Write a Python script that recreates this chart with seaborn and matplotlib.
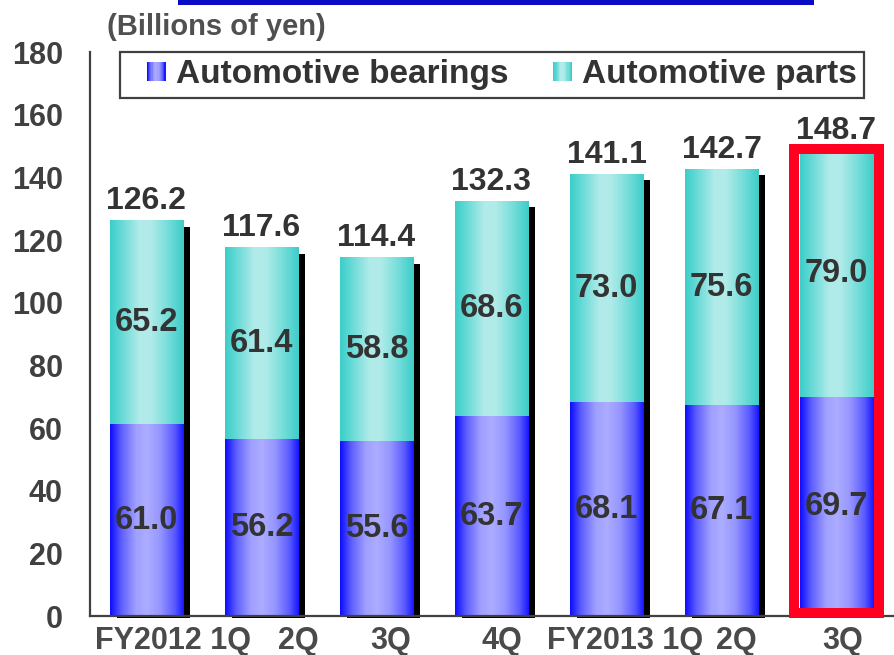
import numpy as np
import pandas as pd
import matplotlib
matplotlib.use("Agg")
import matplotlib.pyplot as plt
import matplotlib.transforms as mtransforms
from matplotlib.patches import Rectangle
from matplotlib.legend_handler import HandlerBase
import seaborn as sns

# ---------------- data ----------------
periods = ["FY2012 1Q", "FY2012 2Q", "FY2012 3Q", "FY2012 4Q",
           "FY2013 1Q", "FY2013 2Q", "FY2013 3Q"]
tick_labels = ["FY2012 1Q", "2Q", "3Q", "4Q", "FY2013 1Q", "2Q", "3Q"]
bearings = [61.0, 56.2, 55.6, 63.7, 68.1, 67.1, 69.7]
parts = [65.2, 61.4, 58.8, 68.6, 73.0, 75.6, 79.0]
totals = [126.2, 117.6, 114.4, 132.3, 141.1, 142.7, 148.7]
unit_label = "(Billions of yen)"
series_names = ["Automotive bearings", "Automotive parts"]

# layout only (label shifts in bar units, as in the original slide)
label_shift = [0.23, 0.32, 0.12, 0.09, 0.16, 0.13, 0.05]

df = pd.DataFrame({"period": periods, "bearings": bearings,
                   "parts": parts, "total": totals})

# ---------------- style ----------------
sns.set_style("white")
plt.rcParams["font.family"] = ["Liberation Sans", "DejaVu Sans"]
plt.rcParams["font.weight"] = "bold"

TXT = "#333333"
AX = "#404040"

blue_stops = [(0.0, (15, 15, 255)), (0.15, (95, 95, 255)), (0.35, (160, 160, 255)),
              (0.5, (172, 172, 255)), (0.68, (150, 150, 255)), (0.88, (90, 90, 255)),
              (1.0, (25, 25, 255))]
cyan_stops = [(0.0, (60, 206, 202)), (0.18, (110, 220, 216)), (0.4, (178, 236, 234)),
              (0.55, (176, 235, 233)), (0.78, (120, 222, 218)), (1.0, (62, 206, 201))]


def gradient(stops, n=64):
    pos = np.array([s[0] for s in stops])
    cols = np.array([s[1] for s in stops], dtype=float) / 255.0
    t = np.linspace(0, 1, n)
    return np.stack([np.interp(t, pos, cols[:, k]) for k in range(3)], axis=1)


blue_grad = gradient(blue_stops)
cyan_grad = gradient(cyan_stops)

fig = plt.figure(figsize=(8.94, 6.55), dpi=100)
ax = fig.add_axes([90 / 894, 39 / 655, 1 - 90 / 894, (616 - 52) / 655])

sns.barplot(data=df, x="period", y="total", order=periods, color="#3ECFCB",
            width=0.635, ax=ax, saturation=1)
sns.barplot(data=df, x="period", y="bearings", order=periods, color="#4040FF",
            width=0.635, ax=ax, saturation=1)

patches = list(ax.patches)
n = len(periods)
tot_patches = patches[:n]
bear_patches = patches[n:2 * n]

ax.set_xlim(-0.49, 6.5)
ax.set_ylim(0, 180)

# shadow: 7 px right, top 6 px lower, bottom 2 px below the axis
shadow_tr = ax.transData + mtransforms.ScaledTranslation(7 / 100, -2 / 100, fig.dpi_scale_trans)
px_per_unit = (616 - 52) / 180.0

for i in range(n):
    tp = tot_patches[i]
    bp = bear_patches[i]
    x0 = tp.get_x()
    w = tp.get_width()
    htot = tp.get_height()
    hb = bp.get_height()
    # shadow
    ax.add_patch(Rectangle((x0, 0), w, htot - 4 / px_per_unit, facecolor="black",
                           edgecolor="none", transform=shadow_tr, zorder=1.2,
                           clip_on=False))
    # gradient fills
    ax.imshow(cyan_grad[np.newaxis, :, :], extent=[x0, x0 + w, hb, htot],
              aspect="auto", interpolation="bilinear", zorder=1.5)
    ax.imshow(blue_grad[np.newaxis, :, :], extent=[x0, x0 + w, 0, hb],
              aspect="auto", interpolation="bilinear", zorder=1.5)
    tp.set_visible(False)
    bp.set_visible(False)
    # labels
    xc = x0 + w / 2
    ax.text(xc, hb / 2, f"{bearings[i]:.1f}", ha="center", va="center",
            fontsize=23.5, color=TXT, fontweight="bold", zorder=5)
    ax.text(xc, hb + (htot - hb) / 2, f"{parts[i]:.1f}", ha="center", va="center",
            fontsize=23.5, color=TXT, fontweight="bold", zorder=5)
    ax.annotate(f"{totals[i]:.1f}", (xc, htot), xytext=(0, 3),
                textcoords="offset points", ha="center", va="bottom",
                fontsize=23, color=TXT, fontweight="bold", zorder=5,
                annotation_clip=False)

# red highlight frame around latest quarter
lp = tot_patches[-1]
ax.add_patch(Rectangle((lp.get_x() - 0.05, 1.0), lp.get_width() + 0.1,
                       lp.get_height() - 0.7, facecolor="none", edgecolor="#FF0020",
                       linewidth=7.2, zorder=4, clip_on=False))

ax.set_xlim(-0.49, 6.5)
ax.set_ylim(0, 180)
ax.set_yticks(np.arange(0, 181, 20))
ax.set_xticks([i + s for i, s in enumerate(label_shift)])
ax.set_xticklabels(tick_labels)
ax.set_xlabel("")
ax.set_ylabel("")

for side in ["top", "right"]:
    ax.spines[side].set_visible(False)
for side in ["left", "bottom"]:
    ax.spines[side].set_color(AX)
    ax.spines[side].set_linewidth(1.6)
    ax.spines[side].set_zorder(3)

ax.tick_params(axis="y", direction="in", length=7.5, width=1.6, color=AX,
               pad=19.5, labelsize=22, labelcolor=AX)
ax.tick_params(axis="x", length=0, pad=7, labelsize=22, labelcolor="#4a4a4a")
for lab in ax.get_xticklabels() + ax.get_yticklabels():
    lab.set_fontweight("bold")

# unit label
fig.text(107 / 894, 1 - 35 / 655, unit_label, ha="left", va="baseline",
         fontsize=21, color="#505050", fontweight="bold")

# blue title strip at top (cut off in the source)
fig.add_artist(Rectangle((178 / 894, 1 - 5 / 655), (814 - 178) / 894, 5 / 655,
                         transform=fig.transFigure, facecolor="#0B0BC4",
                         edgecolor="none"))


class GradHandler(HandlerBase):
    def __init__(self, grad):
        super().__init__()
        self.grad = grad

    def create_artists(self, legend, orig_handle, xdescent, ydescent, width,
                       height, fontsize, trans):
        size = 13.7
        x_start = width - size - xdescent
        y_start = (height - size) / 2 - ydescent
        arts = []
        m = 16
        for k in range(m):
            c = self.grad[int(k * (len(self.grad) - 1) / (m - 1))]
            r = Rectangle((x_start + k * size / m, y_start), size / m + 0.05, size,
                          facecolor=c, edgecolor="none", transform=trans)
            arts.append(r)
        return arts


h1 = Rectangle((0, 0), 1, 1)
h2 = Rectangle((0, 0), 1, 1)
leg = fig.legend([h1, h2], series_names, loc="upper left",
                 bbox_to_anchor=(120 / 894, 1 - 52 / 655), ncol=2,
                 handler_map={h1: GradHandler(blue_grad), h2: GradHandler(cyan_grad)},
                 prop={"size": 24, "weight": "bold"}, handlelength=1.15,
                 handleheight=0.6, handletextpad=0.3, columnspacing=0.77,
                 borderpad=0.22, borderaxespad=0, fancybox=False, framealpha=1,
                 edgecolor=AX, facecolor="white")
leg.get_frame().set_linewidth(1.6)
for t in leg.get_texts():
    t.set_color(TXT)

fig.savefig("out.png", dpi=100)
